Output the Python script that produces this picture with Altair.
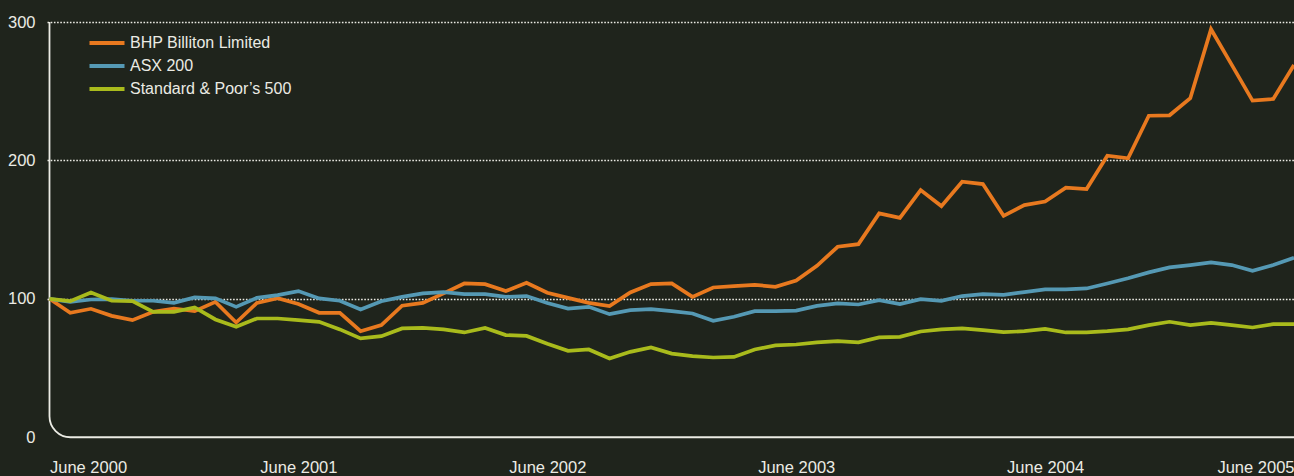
import altair as alt
import pandas as pd

series_names = ["BHP Billiton Limited", "ASX 200", "Standard & Poor\u2019s 500"]
series_colors = ["#e8791f", "#5599b4", "#a9bb1c"]

# monthly index values, June 2000 = 100 (61 points, June 2000 .. June 2005)
bhp = [100, 89.9, 92.8, 87.7, 84.6, 90.6, 93.0, 91.1, 97.8, 82.9, 97.1, 100.5, 96.2,
       89.9, 89.9, 76.6, 81.0, 95.0, 97.1, 103.9, 111.1, 110.6, 105.6, 111.6, 104.4,
       100.7, 97.1, 94.7, 104.6, 110.6, 111.1, 101.4, 108.2, 109.2, 110.1, 108.7, 113.2,
       123.9, 137.6, 139.5, 161.7, 158.5, 178.6, 167.0, 184.6, 182.9, 160.0, 167.7, 170.3,
       180.3, 179.3, 203.4, 201.5, 232.3, 232.6, 244.9, 294.8, 269.0, 243.2, 244.4, 269.0]
asx = [100, 97.8, 99.5, 99.8, 98.6, 98.6, 97.1, 101.0, 100.3, 94.2, 100.7, 102.7, 105.6,
       100.3, 98.6, 92.3, 98.3, 101.4, 103.9, 104.8, 103.4, 103.4, 101.4, 102.0, 97.0,
       93.0, 94.2, 88.9, 91.8, 92.5, 91.1, 89.4, 84.1, 87.0, 91.1, 91.1, 91.5,
       94.9, 96.7, 95.9, 99.0, 96.2, 99.8, 98.6, 102.0, 103.4, 102.9, 104.8, 106.8,
       106.8, 107.5, 111.1, 114.8, 119.1, 122.7, 124.4, 126.3, 124.4, 120.2, 124.4, 129.6]
spx = [100, 98.3, 104.6, 98.6, 98.3, 90.6, 90.6, 93.8, 85.1, 79.8, 85.8, 85.8, 84.6,
       83.4, 77.9, 71.4, 73.0, 78.6, 79.0, 77.9, 75.7, 79.0, 73.8, 73.2, 67.5,
       62.4, 63.4, 56.9, 61.7, 64.9, 60.4, 58.6, 57.6, 58.0, 63.4, 66.3, 67.0,
       68.5, 69.4, 68.5, 72.1, 72.5, 76.4, 77.9, 78.6, 77.4, 75.9, 76.6, 78.3,
       75.7, 75.7, 76.6, 77.9, 81.0, 83.4, 81.0, 82.6, 81.0, 79.3, 81.7, 81.7]

x_ticks = [0, 12, 24, 36, 48, 60]
y_ticks = [0, 100, 200, 300]

rows = []
for name, vals in zip(series_names, [bhp, asx, spx]):
    for i, v in enumerate(vals):
        rows.append({"month": i, "value": v, "series": name})
df = pd.DataFrame(rows)

text_color = "#ebebe4"
bg = "#1f241c"

x_scale = alt.Scale(domain=[-0.12, 60], nice=False, zero=False)
y_scale = alt.Scale(domain=[-2, 300], nice=False, zero=False)

frame = alt.Chart(pd.DataFrame({"x0": [0], "x1": [75], "y0": [0], "y1": [420]})).mark_rect(
    fill=None, filled=False, stroke=text_color, strokeWidth=1.8, cornerRadius=21, clip=True
).encode(
    x=alt.X("x0:Q", scale=x_scale),
    x2="x1:Q",
    y=alt.Y("y0:Q", scale=y_scale),
    y2="y1:Q",
)

lines = alt.Chart(df).mark_line(strokeWidth=3.7, strokeJoin="miter", strokeCap="butt").encode(
    x=alt.X("month:Q", scale=x_scale,
            axis=alt.Axis(values=x_ticks, title=None, grid=False, ticks=False, domain=False,
                          labelExpr="'June ' + (2000 + datum.value / 12)",
                          labelFlush=6, labelPadding=19, labelFontSize=16.5,
                          labelColor=text_color, labelFont="Liberation Sans")),
    y=alt.Y("value:Q", scale=y_scale,
            axis=alt.Axis(values=y_ticks, title=None, ticks=False, domain=False,
                          grid=True, gridColor=text_color, gridWidth=1.7, gridDash=[1.6, 1.6],
                          gridOpacity=alt.ExprRef("datum.value === 0 ? 0 : 1"),
                          labelPadding=12, labelFontSize=16.5, labelColor=text_color,
                          labelFont="Liberation Sans")),
    color=alt.Color("series:N",
                    scale=alt.Scale(domain=series_names, range=series_colors),
                    legend=alt.Legend(title=None, orient="none", legendX=52, legendY=13,
                                      symbolType="M-3.5,0L3.5,0", symbolSize=100,
                                      symbolStrokeWidth=4, symbolFillColor="transparent",
                                      labelFontSize=16, labelColor=text_color,
                                      labelFont="Liberation Sans", labelOffset=15,
                                      labelLimit=0, rowPadding=7, padding=0)),
    order=alt.Order("series:N"),
)

chart = alt.layer(frame, lines).properties(
    width=1247, height=418,
    padding={"left": 47, "top": 22, "right": 0, "bottom": 36},
    autosize=alt.AutoSizeParams(type="none"),
    background=bg,
).configure_view(stroke=None)

chart.save("out.html", embed_options={"renderer": "svg", "actions": False})
